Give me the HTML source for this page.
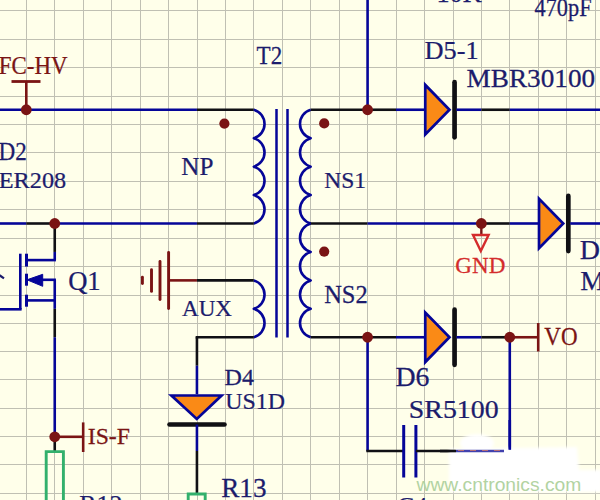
<!DOCTYPE html>
<html><head><meta charset="utf-8"><style>
html,body{margin:0;padding:0;background:#FFFFEA;}
body{width:600px;height:500px;overflow:hidden;position:relative;font-family:"Liberation Serif",serif;}
svg{position:absolute;left:0;top:0;}
</style></head><body>
<svg width="600" height="500" viewBox="0 0 600 500">
<defs><filter id="blur" x="-10%" y="-30%" width="120%" height="160%"><feGaussianBlur stdDeviation="1.8"/></filter></defs>
<rect width="600" height="500" fill="#FFFFEA"/>
<line x1="26.5" y1="0" x2="26.5" y2="500" stroke="#C0C0B3" stroke-width="1"/>
<line x1="54.5" y1="0" x2="54.5" y2="500" stroke="#C0C0B3" stroke-width="1"/>
<line x1="83.5" y1="0" x2="83.5" y2="500" stroke="#C0C0B3" stroke-width="1"/>
<line x1="111.5" y1="0" x2="111.5" y2="500" stroke="#C0C0B3" stroke-width="1"/>
<line x1="140.5" y1="0" x2="140.5" y2="500" stroke="#C0C0B3" stroke-width="1"/>
<line x1="168.5" y1="0" x2="168.5" y2="500" stroke="#C0C0B3" stroke-width="1"/>
<line x1="197.5" y1="0" x2="197.5" y2="500" stroke="#C0C0B3" stroke-width="1"/>
<line x1="225.5" y1="0" x2="225.5" y2="500" stroke="#C0C0B3" stroke-width="1"/>
<line x1="253.5" y1="0" x2="253.5" y2="500" stroke="#C0C0B3" stroke-width="1"/>
<line x1="282.5" y1="0" x2="282.5" y2="500" stroke="#C0C0B3" stroke-width="1"/>
<line x1="310.5" y1="0" x2="310.5" y2="500" stroke="#C0C0B3" stroke-width="1"/>
<line x1="339.5" y1="0" x2="339.5" y2="500" stroke="#C0C0B3" stroke-width="1"/>
<line x1="367.5" y1="0" x2="367.5" y2="500" stroke="#C0C0B3" stroke-width="1"/>
<line x1="396.5" y1="0" x2="396.5" y2="500" stroke="#C0C0B3" stroke-width="1"/>
<line x1="424.5" y1="0" x2="424.5" y2="500" stroke="#C0C0B3" stroke-width="1"/>
<line x1="453.5" y1="0" x2="453.5" y2="500" stroke="#C0C0B3" stroke-width="1"/>
<line x1="481.5" y1="0" x2="481.5" y2="500" stroke="#C0C0B3" stroke-width="1"/>
<line x1="509.5" y1="0" x2="509.5" y2="500" stroke="#C0C0B3" stroke-width="1"/>
<line x1="538.5" y1="0" x2="538.5" y2="500" stroke="#C0C0B3" stroke-width="1"/>
<line x1="566.5" y1="0" x2="566.5" y2="500" stroke="#C0C0B3" stroke-width="1"/>
<line x1="595.5" y1="0" x2="595.5" y2="500" stroke="#C0C0B3" stroke-width="1"/>
<line x1="0" y1="10.5" x2="600" y2="10.5" stroke="#C0C0B3" stroke-width="1"/>
<line x1="0" y1="39.5" x2="600" y2="39.5" stroke="#C0C0B3" stroke-width="1"/>
<line x1="0" y1="67.5" x2="600" y2="67.5" stroke="#C0C0B3" stroke-width="1"/>
<line x1="0" y1="96.5" x2="600" y2="96.5" stroke="#C0C0B3" stroke-width="1"/>
<line x1="0" y1="124.5" x2="600" y2="124.5" stroke="#C0C0B3" stroke-width="1"/>
<line x1="0" y1="152.5" x2="600" y2="152.5" stroke="#C0C0B3" stroke-width="1"/>
<line x1="0" y1="181.5" x2="600" y2="181.5" stroke="#C0C0B3" stroke-width="1"/>
<line x1="0" y1="209.5" x2="600" y2="209.5" stroke="#C0C0B3" stroke-width="1"/>
<line x1="0" y1="238.5" x2="600" y2="238.5" stroke="#C0C0B3" stroke-width="1"/>
<line x1="0" y1="266.5" x2="600" y2="266.5" stroke="#C0C0B3" stroke-width="1"/>
<line x1="0" y1="295.5" x2="600" y2="295.5" stroke="#C0C0B3" stroke-width="1"/>
<line x1="0" y1="323.5" x2="600" y2="323.5" stroke="#C0C0B3" stroke-width="1"/>
<line x1="0" y1="351.5" x2="600" y2="351.5" stroke="#C0C0B3" stroke-width="1"/>
<line x1="0" y1="379.5" x2="600" y2="379.5" stroke="#C0C0B3" stroke-width="1"/>
<line x1="0" y1="408.5" x2="600" y2="408.5" stroke="#C0C0B3" stroke-width="1"/>
<line x1="0" y1="436.5" x2="600" y2="436.5" stroke="#C0C0B3" stroke-width="1"/>
<line x1="0" y1="464.5" x2="600" y2="464.5" stroke="#C0C0B3" stroke-width="1"/>
<line x1="0" y1="493.5" x2="600" y2="493.5" stroke="#C0C0B3" stroke-width="1"/>
<line x1="11.5" y1="81.5" x2="40.5" y2="81.5" stroke="#7A1414" stroke-width="2.8" stroke-linecap="butt"/>
<line x1="26.3" y1="81.5" x2="26.3" y2="109.74" stroke="#7A1414" stroke-width="2.6" stroke-linecap="butt"/>
<text transform="translate(-1.19,74.20) scale(0.9190,1)" fill="#7A1414" font-size="24.93" font-family="Liberation Serif" stroke="#7A1414" stroke-width="0.25">FC-HV</text>
<line x1="0" y1="109.74" x2="196.94" y2="109.74" stroke="#050598" stroke-width="2.6" stroke-linecap="butt"/>
<line x1="196.94" y1="109.74" x2="253.82" y2="109.74" stroke="#101014" stroke-width="2.6" stroke-linecap="butt"/>
<path d="M253.82,109.74 A14.8,14.8 0 0 1 253.82,138.19 A14.8,14.8 0 0 1 253.82,166.64 A14.8,14.8 0 0 1 253.82,195.09 A14.8,14.8 0 0 1 253.82,223.54" stroke="#050598" stroke-width="2.6" fill="none" stroke-linejoin="round"/>
<line x1="0" y1="223.5" x2="26.3" y2="223.5" stroke="#050598" stroke-width="2.6" stroke-linecap="butt"/>
<line x1="26.3" y1="223.5" x2="54.74" y2="223.5" stroke="#101014" stroke-width="2.6" stroke-linecap="butt"/>
<line x1="54.74" y1="223.5" x2="196.94" y2="223.5" stroke="#050598" stroke-width="2.6" stroke-linecap="butt"/>
<line x1="196.94" y1="223.5" x2="253.82" y2="223.5" stroke="#101014" stroke-width="2.6" stroke-linecap="butt"/>
<text transform="translate(181.25,175.00) scale(1.0019,1)" fill="#1C1C6C" font-size="25.08" font-family="Liberation Serif" stroke="#1C1C6C" stroke-width="0.25">NP</text>
<text transform="translate(-1.49,160.00) scale(0.9408,1)" fill="#1C1C6C" font-size="24.62" font-family="Liberation Serif" stroke="#1C1C6C" stroke-width="0.25">D2</text>
<text transform="translate(-1.23,187.83) scale(1.0428,1)" fill="#1C1C6C" font-size="23.28" font-family="Liberation Serif" stroke="#1C1C6C" stroke-width="0.25">ER208</text>
<text transform="translate(256.54,63.70) scale(0.8994,1)" fill="#1C1C6C" font-size="25.69" font-family="Liberation Serif" stroke="#1C1C6C" stroke-width="0.25">T2</text>
<line x1="276.5" y1="109" x2="276.5" y2="337.5" stroke="#050598" stroke-width="2.5" stroke-linecap="butt"/>
<line x1="287.5" y1="109" x2="287.5" y2="337.5" stroke="#050598" stroke-width="2.5" stroke-linecap="butt"/>
<path d="M310.7,109.74 A14.8,14.8 0 0 0 310.7,138.19 A14.8,14.8 0 0 0 310.7,166.64 A14.8,14.8 0 0 0 310.7,195.09 A14.8,14.8 0 0 0 310.7,223.54" stroke="#050598" stroke-width="2.6" fill="none" stroke-linejoin="round"/>
<line x1="310.7" y1="109.74" x2="367.58" y2="109.74" stroke="#101014" stroke-width="2.6" stroke-linecap="butt"/>
<line x1="367.58" y1="109.74" x2="396.02" y2="109.74" stroke="#101014" stroke-width="2.6" stroke-linecap="butt"/>
<line x1="396.02" y1="109.74" x2="424.46" y2="109.74" stroke="#050598" stroke-width="2.6" stroke-linecap="butt"/>
<line x1="367.58" y1="0" x2="367.58" y2="109.74" stroke="#050598" stroke-width="2.6" stroke-linecap="butt"/>
<text transform="translate(324.20,188.12) scale(0.9800,1)" fill="#1C1C6C" font-size="23.97" font-family="Liberation Serif" stroke="#1C1C6C" stroke-width="0.25">NS1</text>
<path d="M310.7,223.5 A14.8,14.8 0 0 0 310.7,251.95 A14.8,14.8 0 0 0 310.7,280.4 A14.8,14.8 0 0 0 310.7,308.85 A14.8,14.8 0 0 0 310.7,337.3" stroke="#050598" stroke-width="2.6" fill="none" stroke-linejoin="round"/>
<text transform="translate(324.17,302.50) scale(0.9712,1)" fill="#1C1C6C" font-size="25.22" font-family="Liberation Serif" stroke="#1C1C6C" stroke-width="0.25">NS2</text>
<line x1="424.46" y1="109.74" x2="426.46" y2="109.74" stroke="#050598" stroke-width="2.6" stroke-linecap="butt"/>
<polygon points="425.26,84.94 425.26,134.54 449.46,109.74" stroke="#050598" stroke-width="2.7" fill="#FA8A16" stroke-linejoin="miter"/>
<line x1="454.56" y1="82.13999999999999" x2="454.56" y2="137.34" stroke="#101014" stroke-width="4.7" stroke-linecap="round"/>
<line x1="456.46" y1="109.74" x2="481.34" y2="109.74" stroke="#050598" stroke-width="2.6" stroke-linecap="butt"/>
<line x1="481.34" y1="109.74" x2="509.78" y2="109.74" stroke="#101014" stroke-width="2.6" stroke-linecap="butt"/>
<line x1="509.78" y1="109.74" x2="600" y2="109.74" stroke="#050598" stroke-width="2.6" stroke-linecap="butt"/>
<text transform="translate(424.61,58.75) scale(1.0690,1)" fill="#1C1C6C" font-size="24.63" font-family="Liberation Serif" stroke="#1C1C6C" stroke-width="0.25">D5-1</text>
<text transform="translate(466.58,86.51) scale(1.1153,1)" fill="#1C1C6C" font-size="24.41" font-family="Liberation Serif" stroke="#1C1C6C" stroke-width="0.25">MBR30100</text>
<text transform="translate(436.39,2.09) scale(1.0300,1)" fill="#1C1C6C" font-size="25.50" font-family="Liberation Serif" stroke="#1C1C6C" stroke-width="0.25">10K</text>
<text transform="translate(534.55,15.60) scale(0.9223,1)" fill="#1C1C6C" font-size="24.20" font-family="Liberation Serif" stroke="#1C1C6C" stroke-width="0.25">470pF</text>
<line x1="310.7" y1="223.5" x2="367.58" y2="223.5" stroke="#101014" stroke-width="2.6" stroke-linecap="butt"/>
<line x1="367.58" y1="223.5" x2="481.34" y2="223.5" stroke="#050598" stroke-width="2.6" stroke-linecap="butt"/>
<line x1="481.34" y1="223.5" x2="509.78" y2="223.5" stroke="#101014" stroke-width="2.6" stroke-linecap="butt"/>
<line x1="509.78" y1="223.5" x2="538.22" y2="223.5" stroke="#050598" stroke-width="2.6" stroke-linecap="butt"/>
<line x1="481.34" y1="223.5" x2="481.34" y2="235" stroke="#7A1414" stroke-width="2.4" stroke-linecap="butt"/>
<polygon points="473,235 488.6,235 480.8,251" stroke="#D42C2C" stroke-width="2.4" fill="none" stroke-linejoin="miter"/>
<text transform="translate(455.28,273.04) scale(0.9990,1)" fill="#D42C2C" font-size="23.13" font-family="Liberation Serif" stroke="#D42C2C" stroke-width="0.25">GND</text>
<polygon points="539.02,198.7 539.02,248.3 563.22,223.5" stroke="#050598" stroke-width="2.7" fill="#FA8A16" stroke-linejoin="miter"/>
<line x1="568.32" y1="195.9" x2="568.32" y2="251.1" stroke="#101014" stroke-width="4.7" stroke-linecap="round"/>
<line x1="570.22" y1="223.5" x2="600" y2="223.5" stroke="#050598" stroke-width="2.6" stroke-linecap="butt"/>
<text transform="translate(579.66,258.70) scale(1.0000,1)" fill="#1C1C6C" font-size="28.00" font-family="Liberation Serif" stroke="#1C1C6C" stroke-width="0.25">D</text>
<text transform="translate(580.36,290.20) scale(1.0000,1)" fill="#1C1C6C" font-size="28.00" font-family="Liberation Serif" stroke="#1C1C6C" stroke-width="0.25">M</text>
<line x1="310.7" y1="337.26" x2="396.02" y2="337.26" stroke="#101014" stroke-width="2.6" stroke-linecap="butt"/>
<line x1="396.02" y1="337.26" x2="424.46" y2="337.26" stroke="#050598" stroke-width="2.6" stroke-linecap="butt"/>
<polygon points="425.26,312.46 425.26,362.06 449.46,337.26" stroke="#050598" stroke-width="2.7" fill="#FA8A16" stroke-linejoin="miter"/>
<line x1="454.56" y1="309.65999999999997" x2="454.56" y2="364.86" stroke="#101014" stroke-width="4.7" stroke-linecap="round"/>
<line x1="456.46" y1="337.26" x2="481.34" y2="337.26" stroke="#050598" stroke-width="2.6" stroke-linecap="butt"/>
<line x1="481.34" y1="337.26" x2="509.78" y2="337.26" stroke="#101014" stroke-width="2.6" stroke-linecap="butt"/>
<text transform="translate(395.42,386.27) scale(1.0584,1)" fill="#1C1C6C" font-size="26.27" font-family="Liberation Serif" stroke="#1C1C6C" stroke-width="0.25">D6</text>
<text transform="translate(408.85,417.89) scale(1.1021,1)" fill="#1C1C6C" font-size="25.29" font-family="Liberation Serif" stroke="#1C1C6C" stroke-width="0.25">SR5100</text>
<line x1="509.78" y1="337.26" x2="538.22" y2="337.26" stroke="#7A1414" stroke-width="2.6" stroke-linecap="butt"/>
<line x1="538.22" y1="323.04" x2="538.22" y2="351.48" stroke="#7A1414" stroke-width="2.6" stroke-linecap="butt"/>
<text transform="translate(544.27,345.01) scale(0.9348,1)" fill="#7A1414" font-size="24.63" font-family="Liberation Serif" stroke="#7A1414" stroke-width="0.25">VO</text>
<line x1="367.58" y1="337.26" x2="367.58" y2="451.02" stroke="#050598" stroke-width="2.6" stroke-linecap="butt"/>
<line x1="509.78" y1="337.26" x2="509.78" y2="449.8" stroke="#050598" stroke-width="2.6" stroke-linecap="butt"/>
<line x1="366.28" y1="451.02" x2="403.7" y2="451.02" stroke="#101014" stroke-width="2.6" stroke-linecap="butt"/>
<line x1="403.7" y1="425" x2="403.7" y2="477.5" stroke="#050598" stroke-width="3" stroke-linecap="butt"/>
<line x1="415.9" y1="425" x2="415.9" y2="477.5" stroke="#050598" stroke-width="3" stroke-linecap="butt"/>
<line x1="415.9" y1="451.02" x2="455" y2="451.02" stroke="#101014" stroke-width="2.6" stroke-linecap="butt"/>
<line x1="168.6" y1="252.4" x2="168.6" y2="308.6" stroke="#7A1414" stroke-width="2.9" stroke-linecap="round"/>
<line x1="160" y1="261.4" x2="160" y2="299.6" stroke="#7A1414" stroke-width="2.9" stroke-linecap="round"/>
<line x1="151.5" y1="269.6" x2="151.5" y2="291.4" stroke="#7A1414" stroke-width="2.9" stroke-linecap="round"/>
<line x1="142.4" y1="277.2" x2="142.4" y2="283.6" stroke="#7A1414" stroke-width="2.9" stroke-linecap="round"/>
<line x1="168.75" y1="280.38" x2="196.94" y2="280.38" stroke="#7A1414" stroke-width="2.6" stroke-linecap="butt"/>
<line x1="196.94" y1="280.38" x2="253.82" y2="280.38" stroke="#101014" stroke-width="2.6" stroke-linecap="butt"/>
<path d="M253.82,280.38 A14.8,14.8 0 0 1 253.82,308.83 A14.8,14.8 0 0 1 253.82,337.28" stroke="#050598" stroke-width="2.6" fill="none" stroke-linejoin="round"/>
<line x1="253.82" y1="337.26" x2="195.64" y2="337.26" stroke="#101014" stroke-width="2.6" stroke-linecap="butt"/>
<line x1="196.94" y1="337.26" x2="196.94" y2="365.7" stroke="#101014" stroke-width="2.6" stroke-linecap="butt"/>
<line x1="196.94" y1="365.7" x2="196.94" y2="394.14" stroke="#050598" stroke-width="2.6" stroke-linecap="butt"/>
<text transform="translate(182.07,316.46) scale(0.9647,1)" fill="#1C1C6C" font-size="23.88" font-family="Liberation Serif" stroke="#1C1C6C" stroke-width="0.25">AUX</text>
<polygon points="171.4,395.5 221.6,395.5 196.8,419" stroke="#050598" stroke-width="2.7" fill="#FA8A16" stroke-linejoin="miter"/>
<line x1="169.5" y1="424.5" x2="224.5" y2="424.5" stroke="#101014" stroke-width="4.6" stroke-linecap="round"/>
<line x1="196.94" y1="424.5" x2="196.94" y2="451.02" stroke="#050598" stroke-width="2.6" stroke-linecap="butt"/>
<line x1="196.94" y1="451.02" x2="196.94" y2="493.68" stroke="#101014" stroke-width="2.6" stroke-linecap="butt"/>
<polyline points="188.2,502 188.2,494 205.2,494 205.2,502" stroke="#32B06C" stroke-width="2.9" fill="none" stroke-linejoin="miter"/>
<text transform="translate(224.53,384.75) scale(1.0043,1)" fill="#1C1C6C" font-size="23.92" font-family="Liberation Serif" stroke="#1C1C6C" stroke-width="0.25">D4</text>
<text transform="translate(225.32,409.33) scale(1.0074,1)" fill="#1C1C6C" font-size="23.68" font-family="Liberation Serif" stroke="#1C1C6C" stroke-width="0.25">US1D</text>
<text transform="translate(221.18,496.72) scale(0.9846,1)" fill="#1C1C6C" font-size="27.61" font-family="Liberation Serif" stroke="#1C1C6C" stroke-width="0.25">R13</text>
<line x1="54.74" y1="223.5" x2="54.74" y2="251.94" stroke="#101014" stroke-width="2.6" stroke-linecap="butt"/>
<line x1="54.74" y1="251.94" x2="54.74" y2="260.1" stroke="#050598" stroke-width="2.6" stroke-linecap="butt"/>
<line x1="55.940000000000005" y1="260.1" x2="27" y2="260.1" stroke="#050598" stroke-width="2.6" stroke-linecap="butt"/>
<line x1="26.5" y1="253.7" x2="26.5" y2="266.6" stroke="#050598" stroke-width="3" stroke-linecap="butt"/>
<line x1="26.5" y1="273.7" x2="26.5" y2="285.7" stroke="#050598" stroke-width="3" stroke-linecap="butt"/>
<line x1="26.5" y1="294.7" x2="26.5" y2="306.7" stroke="#050598" stroke-width="3" stroke-linecap="butt"/>
<polygon points="27,279.8 42.7,274.3 42.7,286.3" stroke="#050598" stroke-width="1" fill="#050598" stroke-linejoin="miter"/>
<line x1="42" y1="279.8" x2="55.940000000000005" y2="279.8" stroke="#050598" stroke-width="2.6" stroke-linecap="butt"/>
<line x1="27" y1="300.4" x2="55.940000000000005" y2="300.4" stroke="#050598" stroke-width="2.6" stroke-linecap="butt"/>
<line x1="54.74" y1="279.8" x2="54.74" y2="308.82" stroke="#050598" stroke-width="2.6" stroke-linecap="butt"/>
<line x1="54.74" y1="308.82" x2="54.74" y2="337.26" stroke="#101014" stroke-width="2.6" stroke-linecap="butt"/>
<line x1="54.74" y1="337.26" x2="54.74" y2="436.8" stroke="#050598" stroke-width="2.6" stroke-linecap="butt"/>
<line x1="20.3" y1="253.7" x2="20.3" y2="309.3" stroke="#050598" stroke-width="2.6" stroke-linecap="butt"/>
<line x1="0" y1="309.3" x2="21.6" y2="309.3" stroke="#050598" stroke-width="2.6" stroke-linecap="butt"/>
<text transform="translate(68.14,290.00) scale(0.9649,1)" fill="#1C1C6C" font-size="27.58" font-family="Liberation Serif" stroke="#1C1C6C" stroke-width="0.25">Q1</text>
<line x1="-0.5" y1="275.2" x2="4" y2="278.3" stroke="#1C1C6C" stroke-width="2.2"/>
<line x1="54.74" y1="436.8" x2="83.18" y2="436.8" stroke="#7A1414" stroke-width="2.6" stroke-linecap="butt"/>
<line x1="83.18" y1="422.4" x2="83.18" y2="452" stroke="#7A1414" stroke-width="2.6" stroke-linecap="butt"/>
<text transform="translate(87.75,444.22) scale(0.9927,1)" fill="#7A1414" font-size="23.88" font-family="Liberation Serif" stroke="#7A1414" stroke-width="0.25">IS-F</text>
<line x1="54.74" y1="436.8" x2="54.74" y2="451.02" stroke="#101014" stroke-width="2.6" stroke-linecap="butt"/>
<polyline points="46.2,502 46.2,451.6 63.4,451.6 63.4,502" stroke="#32B06C" stroke-width="2.9" fill="none" stroke-linejoin="miter"/>
<text transform="translate(79.22,513.16) scale(1.0000,1)" fill="#1C1C6C" font-size="26.00" font-family="Liberation Serif" stroke="#1C1C6C" stroke-width="0.25">R12</text>
<text transform="translate(396.96,515.10) scale(1.0000,1)" fill="#1C1C6C" font-size="26.00" font-family="Liberation Serif" stroke="#1C1C6C" stroke-width="0.25">C4</text>
<circle cx="26.3" cy="109.74" r="5.4" fill="#7A1414"/>
<circle cx="224.4" cy="123.6" r="5.1" fill="#7A1414"/>
<circle cx="54.74" cy="223.5" r="5.4" fill="#7A1414"/>
<circle cx="367.58" cy="109.74" r="5.4" fill="#7A1414"/>
<circle cx="324.2" cy="123.4" r="5.1" fill="#7A1414"/>
<circle cx="324.2" cy="251.6" r="5.1" fill="#7A1414"/>
<circle cx="481.34" cy="223.5" r="5.4" fill="#7A1414"/>
<circle cx="367.58" cy="337.26" r="5.4" fill="#7A1414"/>
<circle cx="509.78" cy="337.26" r="5.4" fill="#7A1414"/>
<circle cx="54.74" cy="436.8" r="5.4" fill="#7A1414"/>
<g filter="url(#blur)"><path d="M449,449 L577,447 L579,470 L602,470 L602,492 L449,492 Z" fill="#FFFFFF"/><ellipse cx="477" cy="443" rx="17" ry="9" fill="#FFFFFF"/></g>
<line x1="509.78" y1="420" x2="509.78" y2="449.8" stroke="#050598" stroke-width="2.6"/>
<line x1="440" y1="451.02" x2="456" y2="451.02" stroke="#101014" stroke-width="2.6"/>
<line x1="456" y1="451.02" x2="504" y2="451.02" stroke="#2020A0" stroke-width="2.4" opacity="0.85"/>
<line x1="458" y1="450.52" x2="504" y2="450.52" stroke="#E88060" stroke-width="1.2" stroke-dasharray="6 6" opacity="0.7"/>
<text transform="translate(416.5,490.8) scale(1.02,1)" font-family="Liberation Sans" font-size="18.9" fill="#B2D3A2">www.cntronics.com</text>
</svg>
</body></html>
